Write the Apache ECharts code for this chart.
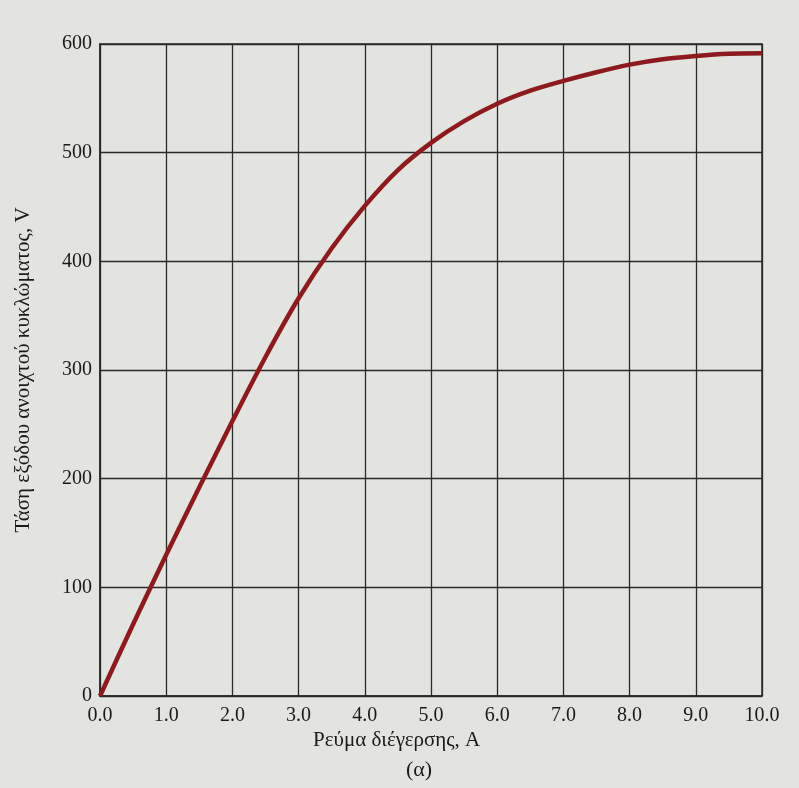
<!DOCTYPE html>
<html>
<head>
<meta charset="utf-8">
<script src="https://cdn.jsdelivr.net/npm/echarts@6/dist/echarts.min.js"></script>
<style>
  html, body { margin: 0; padding: 0; background: #e3e3e0; }
  #chart { width: 799px; height: 788px; }
</style>
</head>
<body>
<div id="chart"></div>
<script>
// καμπύλη μαγνήτισης - τάση ανοιχτού κυκλώματος
var current = [0, 0.5, 1.0, 1.5, 2.0, 2.5, 3.0, 3.5, 4.0, 4.5, 5.0, 5.5, 6.0, 6.5, 7.0, 7.5, 8.0, 8.5, 9.0, 9.5, 10.0];
var voltage = [0, 66, 130, 192, 253, 312, 366, 412, 451, 484, 509, 529, 545, 557, 566, 574, 581, 586, 589, 591, 591.5];
var xTicks = ['0.0', '1.0', '2.0', '3.0', '4.0', '5.0', '6.0', '7.0', '8.0', '9.0', '10.0'];

var serif = '"Liberation Serif", "DejaVu Serif", serif';
var points = current.map(function (c, i) { return [c, voltage[i]]; });

var myChart = echarts.init(document.getElementById('chart'));
var option = {
    backgroundColor: '#e3e3e0',
    animation: false,
    grid: { left: 100, right: 37, top: 44, bottom: 92 },
    xAxis: {
        type: 'value',
        min: 0,
        max: 10,
        interval: 1,
        axisLine: { show: true, lineStyle: { color: '#2a2a2a', width: 1.5 } },
        axisTick: { show: false },
        splitLine: { show: true, lineStyle: { color: '#2a2a2a', width: 1.3 } },
        axisLabel: {
            color: '#1a1a1a', fontFamily: serif, fontSize: 20, margin: 10,
            formatter: function (v) { return xTicks[Math.round(v)]; }
        }
    },
    yAxis: {
        type: 'value',
        min: 0,
        max: 600,
        interval: 100,
        name: 'Τάση εξόδου ανοιχτού κυκλώματος, V',
        nameLocation: 'middle',
        nameGap: 66,
        nameTextStyle: { color: '#1a1a1a', fontFamily: serif, fontSize: 21 },
        axisLine: { show: true, lineStyle: { color: '#2a2a2a', width: 1.5 } },
        axisTick: { show: false },
        splitLine: { show: true, lineStyle: { color: '#2a2a2a', width: 1.3 } },
        axisLabel: { color: '#1a1a1a', fontFamily: serif, fontSize: 20, margin: 8 }
    },
    graphic: [
        {
            type: 'rect', z: 0, silent: true,
            shape: { x: 100, y: 44, width: 662, height: 652 },
            style: { fill: 'none', stroke: '#2a2a2a', lineWidth: 1.5 }
        },
        {
            type: 'text', left: 313, top: 730,
            style: { text: 'Ρεύμα διέγερσης, A', fill: '#1a1a1a', font: '21px ' + serif }
        },
        {
            type: 'text', left: 406, top: 759,
            style: { text: '(α)', fill: '#1a1a1a', font: '22px ' + serif }
        }
    ],
    series: [{
        type: 'line',
        data: points,
        smooth: 0.3,
        showSymbol: false,
        lineStyle: { color: '#8c1a1f', width: 4.5 }
    }]
};
myChart.setOption(option);
</script>
</body>
</html>
